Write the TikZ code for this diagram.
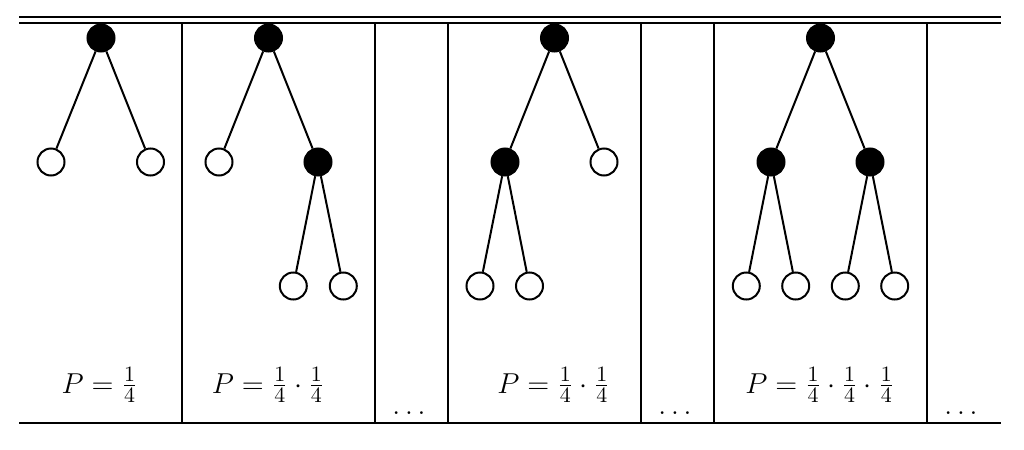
\documentclass[tikz,border=0pt]{standalone}
\begin{document}
\begin{tikzpicture}[x=0.5pt,y=-0.5pt,
  rule/.style={line width=1pt},
  full/.style={circle,fill=black,draw=black,line width=1pt,inner sep=0pt,minimum size=13.5pt},
  empty/.style={circle,fill=white,draw=black,line width=1pt,inner sep=0pt,minimum size=13.5pt},
  edge/.style={line width=1pt},
  lab/.style={anchor=base,inner sep=0pt,font=\fontsize{15.3}{18}\selectfont}]
\useasboundingbox (0,0) rectangle (1024,450);
% rules
\coordinate (tl1) at (19,17); \coordinate (tr1) at (1001,17);
\coordinate (tl2) at (19,23); \coordinate (tr2) at (1001,23);
\coordinate (bl) at (19,423); \coordinate (br) at (1001,423);
\draw[rule] (tl1) -- (tr1);
\draw[rule] (tl2) -- (tr2);
\draw[rule] (bl) -- (br);
\foreach \x/\n in {182/a,375/b,448/c,641/d,714/e,927/f}{
  \coordinate (v\n t) at (\x,23); \coordinate (v\n b) at (\x,423);
  \draw[rule] (v\n t) -- (v\n b);
}
% tree 1
\node[full] (r1) at (101,38) {};
\node[empty] (l1a) at (51,162) {};
\node[empty] (l1b) at (150.5,162) {};
\draw[edge] (r1) -- (l1a); \draw[edge] (r1) -- (l1b);
% tree 2
\node[full] (r2) at (268.5,38) {};
\node[empty] (l2a) at (219,162) {};
\node[full] (n2b) at (318,162) {};
\node[empty] (l2c) at (293.3,286) {};
\node[empty] (l2d) at (343.3,286) {};
\draw[edge] (r2) -- (l2a); \draw[edge] (r2) -- (n2b);
\draw[edge] (n2b) -- (l2c); \draw[edge] (n2b) -- (l2d);
% tree 3
\node[full] (r3) at (554.5,38) {};
\node[full] (n3a) at (505,162) {};
\node[empty] (l3b) at (604,162) {};
\node[empty] (l3c) at (480,286) {};
\node[empty] (l3d) at (529.5,286) {};
\draw[edge] (r3) -- (n3a); \draw[edge] (r3) -- (l3b);
\draw[edge] (n3a) -- (l3c); \draw[edge] (n3a) -- (l3d);
% tree 4
\node[full] (r4) at (820.5,38) {};
\node[full] (n4a) at (771,162) {};
\node[full] (n4b) at (870,162) {};
\node[empty] (l4a) at (746.3,286) {};
\node[empty] (l4b) at (795.7,286) {};
\node[empty] (l4c) at (845.3,286) {};
\node[empty] (l4d) at (894.7,286) {};
\draw[edge] (r4) -- (n4a); \draw[edge] (r4) -- (n4b);
\draw[edge] (n4a) -- (l4a); \draw[edge] (n4a) -- (l4b);
\draw[edge] (n4b) -- (l4c); \draw[edge] (n4b) -- (l4d);
% labels
\node[lab] (p1) at (99.5,393) {$P=\frac14$};
\node[lab] (p2) at (268,393) {$P=\frac14\cdot\frac14$};
\node[lab] (p3) at (553.5,393) {$P=\frac14\cdot\frac14$};
\node[lab] (p4) at (819.7,393) {$P=\frac14\cdot\frac14\cdot\frac14$};
\node[lab] (d1) at (409,414) {$\ldots$};
\node[lab] (d2) at (675,414) {$\ldots$};
\node[lab] (d3) at (961,414) {$\ldots$};
\end{tikzpicture}
\end{document}
